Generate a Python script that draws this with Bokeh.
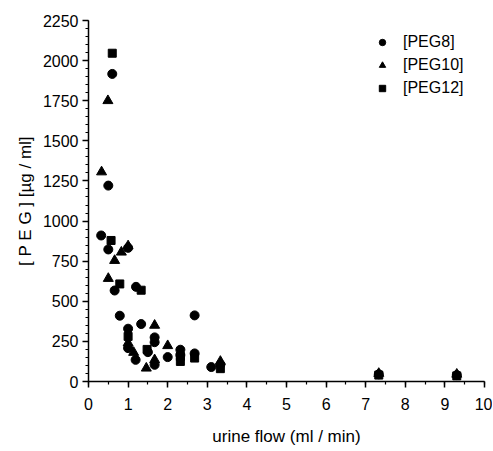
from bokeh.plotting import figure
from bokeh.models import Range1d, Legend, LegendItem, FixedTicker
from bokeh.embed import file_html
from bokeh.resources import INLINE

# PEG8 (circles)
peg8_x = [0.32, 0.50, 0.50, 0.60, 0.66, 0.79, 1.0, 1.0, 1.0, 1.2, 1.33, 1.5, 1.19, 1.67, 1.67, 1.67,
          2.0, 2.32, 2.32, 2.68, 2.68, 3.1, 3.33, 7.33, 9.3]
peg8_y = [910, 1221, 823, 1917, 567, 410, 833, 329, 208, 590, 358, 183, 135, 275, 245, 104,
          152, 198, 165, 412, 175, 90, 105, 45, 40]
# PEG10 (triangles)
peg10_x = [0.33, 0.49, 0.50, 0.66, 0.83, 1.0, 1.0, 1.14, 1.46, 1.67, 1.67, 2.0, 3.33, 7.33, 9.3]
peg10_y = [1306, 1750, 642, 754, 806, 845, 240, 181, 83, 350, 135, 223, 125, 50, 45]
# PEG12 (squares)
peg12_x = [0.57, 0.60, 0.79, 1.0, 1.33, 1.48, 2.32, 2.32, 2.68, 3.33, 7.33, 9.3]
peg12_y = [879, 2046, 608, 281, 569, 200, 156, 125, 146, 80, 40, 35]

x_ticks = list(range(0, 11))
y_ticks = list(range(0, 2251, 250))

FONT = "Liberation Sans"

p = figure(width=492, height=451, output_backend="svg", toolbar_location=None,
           x_range=Range1d(0, 10), y_range=Range1d(0, 2250),
           min_border_left=88, min_border_right=8, min_border_top=20, min_border_bottom=70)
p.outline_line_color = None
p.grid.visible = False
p.background_fill_color = "white"

r8 = p.scatter(peg8_x, peg8_y, marker="circle", size=9, color="black")
r10 = p.scatter(peg10_x, peg10_y, marker="triangle", size=10, color="black")
r12 = p.scatter(peg12_x, peg12_y, marker="square", size=8, color="black")

for ax in (p.xaxis[0], p.yaxis[0]):
    ax.axis_line_width = 1.5
    ax.axis_line_color = "black"
    ax.major_tick_line_color = "black"
    ax.minor_tick_line_color = "black"
    ax.major_tick_line_width = 1.5
    ax.minor_tick_line_width = 1.2
    ax.major_tick_out = 6
    ax.major_tick_in = 0
    ax.minor_tick_out = 3
    ax.minor_tick_in = 0
    ax.major_label_text_font = FONT
    ax.major_label_text_font_size = "16px"
    ax.major_label_text_color = "black"
    ax.axis_label_text_font = FONT
    ax.axis_label_text_font_size = "17px"
    ax.axis_label_text_font_style = "normal"
    ax.axis_label_text_color = "black"

p.xaxis[0].ticker = FixedTicker(ticks=x_ticks, minor_ticks=[i * 0.5 for i in range(21)])
p.yaxis[0].ticker = FixedTicker(ticks=y_ticks, minor_ticks=list(range(0, 2251, 50)))
p.xaxis[0].axis_label = "urine flow (ml / min)"
p.yaxis[0].axis_label = "[ P E G ] [µg / ml]"
p.xaxis[0].axis_label_standoff = 14
p.yaxis[0].axis_label_standoff = 5
p.xaxis[0].major_label_standoff = 10
p.yaxis[0].major_label_standoff = 4

legend = Legend(items=[LegendItem(label="[PEG8]", renderers=[r8]),
                       LegendItem(label="[PEG10]", renderers=[r10]),
                       LegendItem(label="[PEG12]", renderers=[r12])],
                location=(286, 283), border_line_color=None, background_fill_alpha=0,
                label_text_font=FONT, label_text_font_size="16px", label_text_color="black",
                glyph_width=16, glyph_height=20, label_height=20, spacing=3, label_standoff=13,
                padding=0, margin=0)
p.add_layout(legend)

open("out.html", "w").write(file_html(p, INLINE))
